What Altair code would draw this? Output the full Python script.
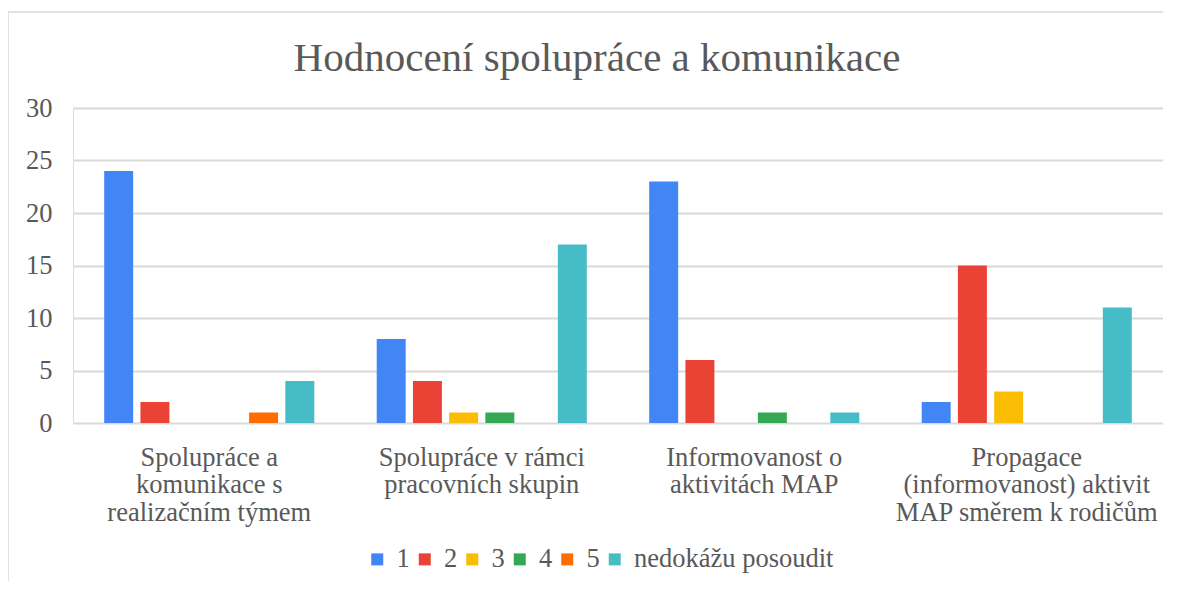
import altair as alt
import pandas as pd

categories = [
    "Spolupráce a\nkomunikace s\nrealizačním týmem",
    "Spolupráce v rámci\npracovních skupin",
    "Informovanost o\naktivitách MAP",
    "Propagace\n(informovanost) aktivit\nMAP směrem k rodičům",
]
series = ["1", "2", "3", "4", "5", "nedokážu posoudit"]
colors = ["#4285F4", "#EA4335", "#FBBC04", "#34A853", "#FF6D01", "#46BDC6"]

v1 = [24, 8, 23, 2]
v2 = [2, 4, 6, 15]
v3 = [0, 1, 0, 3]
v4 = [0, 1, 1, 0]
v5 = [1, 0, 0, 0]
v_nd = [4, 17, 1, 11]

y_ticks = [0, 5, 10, 15, 20, 25, 30]

rows = []
for s, vals in zip(series, [v1, v2, v3, v4, v5, v_nd]):
    for c, v in zip(categories, vals):
        rows.append({"category": c, "series": s, "value": v})
df = pd.DataFrame(rows)

FONT = "Liberation Serif, Times New Roman, serif"
GREY = "#595959"

bars = alt.Chart(df).mark_bar().encode(
    x=alt.X(
        "category:N",
        sort=categories,
        scale=alt.Scale(paddingInner=0.229, paddingOuter=0.1145),
        axis=alt.Axis(
            title=None,
            labelExpr="split(datum.label, '\\n')",
            labelAngle=0,
            labelFont=FONT,
            labelFontSize=26.5,
            labelColor=GREY,
            labelLineHeight=27.5,
            labelPadding=21,
            labelLimit=0,
            domain=False,
            ticks=False,
            tickSize=0,
            labelBaseline="top",
        ),
    ),
    xOffset=alt.XOffset(
        "series:N", sort=series, scale=alt.Scale(paddingInner=0.2, paddingOuter=0)
    ),
    y=alt.Y(
        "value:Q",
        scale=alt.Scale(domain=[0, 30], nice=False),
        axis=alt.Axis(
            title=None,
            values=y_ticks,
            grid=True,
            gridColor="#d9d9d9",
            gridWidth=2,
            domain=False,
            ticks=False,
            tickSize=0,
            labelFont=FONT,
            labelFontSize=26.5,
            labelColor=GREY,
            labelPadding=21,
        ),
    ),
    color=alt.Color(
        "series:N",
        sort=series,
        scale=alt.Scale(domain=series, range=colors),
        legend=alt.Legend(
            title=None,
            orient="none",
            direction="horizontal",
            legendX=291,
            legendY=438,
            symbolType="square",
            symbolSize=144,
            symbolStrokeWidth=0,
            symbolOpacity=1,
            labelFont=FONT,
            labelFontSize=26.5,
            labelColor=GREY,
            labelOffset=6,
            labelLimit=0,
            columnPadding=1.5,
            padding=0,
        ),
    ),
)

border_df = pd.DataFrame({"b": [0]})
top_border = alt.Chart(border_df).mark_rule(color="#d9d9d9", strokeWidth=1.5).encode(
    x=alt.value(-65), x2=alt.value(1090), y=alt.value(-96)
)
left_border = alt.Chart(border_df).mark_rule(color="#d9d9d9", strokeWidth=1.5).encode(
    x=alt.value(-65), y=alt.value(-96), y2=alt.value(473)
)

chart = (
    alt.layer(bars, top_border, left_border)
    .properties(
        width=1090,
        height=315,
        autosize=alt.AutoSizeParams(type="none"),
        padding={"left": 65, "top": 100, "right": 0, "bottom": 158},
        title=alt.TitleParams(
            "Hodnocení spolupráce a komunikace",
            font=FONT,
            fontSize=41,
            fontWeight="normal",
            color=GREY,
            anchor="middle",
            dx=-21,
            offset=-110,
            baseline="bottom",
        ),
    )
    .configure_view(strokeWidth=0, stroke="transparent")
    .configure(background="white")
)

chart.save("out.html", embed_options={"renderer": "svg", "actions": False})
